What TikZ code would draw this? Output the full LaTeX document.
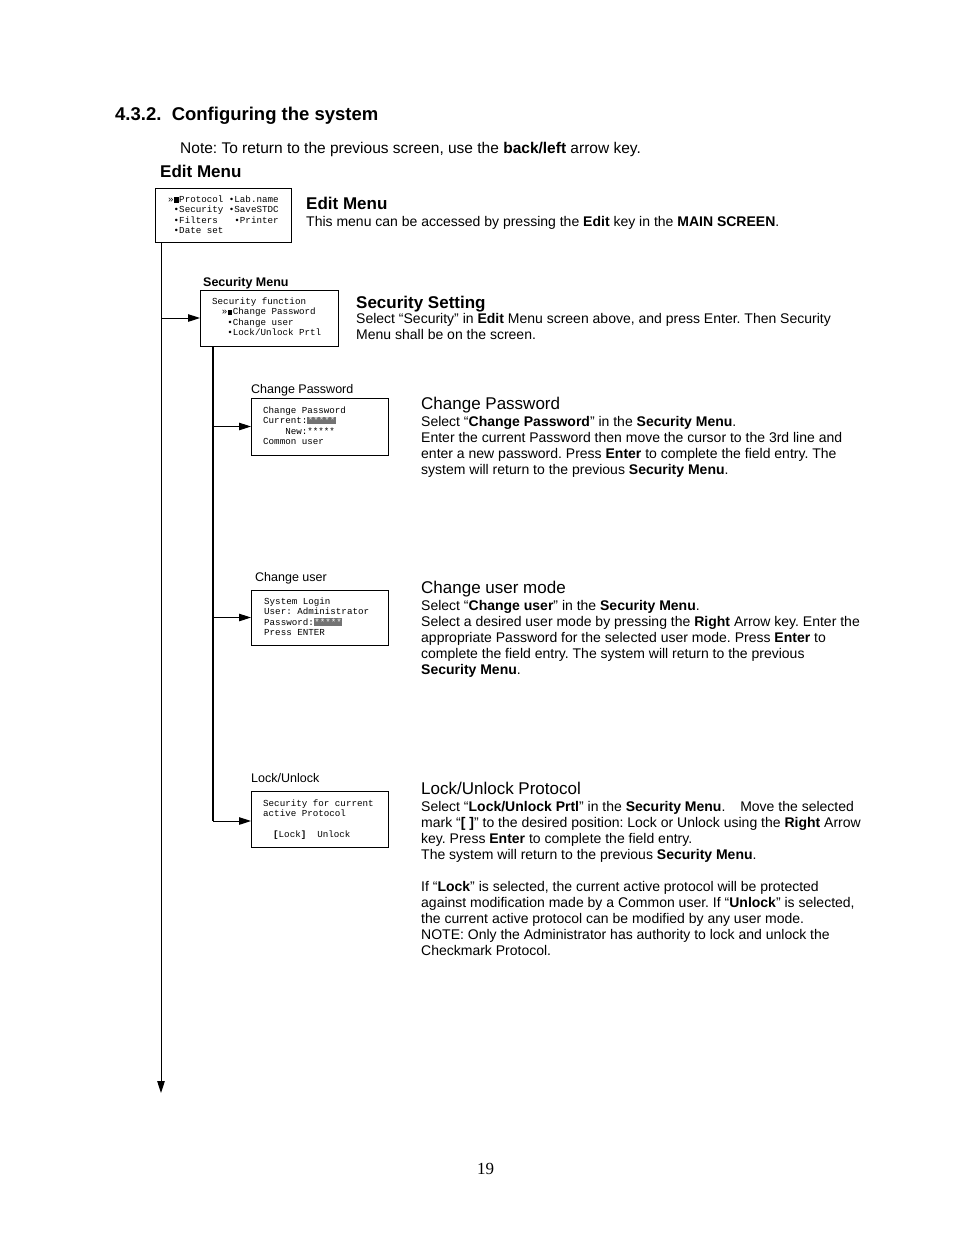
\documentclass[tikz,border=0pt]{standalone}
\usepackage{fontspec}
\setmainfont{Liberation Sans}
\newfontfamily\monof{Liberation Mono}
\newfontfamily\seriff{Liberation Serif}
\usetikzlibrary{arrows.meta}
\newlength\cw
\setlength\cw{5.52pt}
\newcommand\sk[1]{\hspace*{#1\cw}}
\newcommand\blk{\makebox[\cw]{\rule[-0.3pt]{4.6pt}{5.4pt}}}
\newcommand\hlt[1]{{\setlength\fboxsep{0.5pt}\colorbox{black!55}{\textcolor{white}{#1}}}}
\frenchspacing
\tikzset{
  screen/.style={draw, line width=1pt, inner sep=0, outer sep=0},
  monotext/.style={anchor=north west, inner sep=0, align=left, font=\frenchspacing\monof\fontsize{9.2}{10.5}\selectfont},
  para/.style={anchor=north west, inner sep=0, align=left, font=\frenchspacing\fontsize{14}{16}\selectfont},
  ttl/.style={anchor=base west, inner sep=0, font=\fontsize{17}{20}\selectfont},
  small/.style={anchor=base west, inner sep=0, font=\fontsize{12.5}{14}\selectfont},
  arr/.style={line width=1pt, -{Triangle[length=12pt,width=7.5pt]}},
}
\begin{document}
\begin{tikzpicture}[x=1pt,y=-1pt]
\fill[white] (0,0) rectangle (954,1235);
\useasboundingbox (0,0) rectangle (954,1235);

% headings
\node[anchor=base west, inner sep=0, font=\bfseries\fontsize{18.5}{22}\selectfont] (head) at (115,120) {4.3.2.\ \ Configuring the system};
\node[anchor=base west, inner sep=0, font=\frenchspacing\fontsize{15.5}{18}\selectfont] (note) at (180,153) {Note: To return to the previous screen, use the \textbf{back/left} arrow key.};
\node[ttl, font=\bfseries\fontsize{17}{20}\selectfont] (editlbl) at (160,177) {Edit Menu};

% screens
\node[screen, minimum width=136, minimum height=54] (editbox) at (223,215) {};
\node[screen, minimum width=138, minimum height=56] (secbox) at (269,318) {};
\node[screen, minimum width=137, minimum height=57] (cpbox) at (319.5,426.5) {};
\node[screen, minimum width=137, minimum height=55] (cubox) at (319.5,617.5) {};
\node[screen, minimum width=137, minimum height=56] (lockbox) at (319.5,819) {};

% screen contents
\node[monotext] (edittxt) at (168,194.65) {\strut »\blk Protocol •Lab.name\\
\sk1•Security •SaveSTDC\\
\sk1•Filters\sk3•Printer\\
\sk1•Date set};
\node[monotext] (sectxt) at (212,296.65) {\strut Security function\\
\hspace*{9.7pt}»\blk Change Password\\
\hspace*{15.2pt}•Change user\\
\hspace*{15.2pt}•Lock/Unlock Prtl};
\node[monotext] (cptxt) at (263,405.65) {\strut Change Password\\
Current:\hlt{*****}\\
\sk4New:*****\\
Common user};
\node[monotext] (cutxt) at (264,596.65) {\strut System Login\\
User: Administrator\\
Password:\hlt{*****}\\
Press ENTER};
\node[monotext] (locktxt) at (263,798.65) {\strut Security for current\\
active Protocol\\[10.5pt]
\hspace*{10pt}\textbf{[}Lock\textbf{]}\sk2Unlock};

% small labels above screens
\node[small, font=\bfseries\fontsize{12.5}{14}\selectfont] (seclbl) at (203,286.5) {Security Menu};
\node[small] (cplbl) at (251,393.5) {Change Password};
\node[small] (culbl) at (255,581.5) {Change user};
\node[small] (locklbl) at (251,782.5) {Lock/Unlock};

% connectors
\coordinate (mainend) at (161,1093);
\coordinate (subend) at (213,821);
\draw[arr] ([xshift=6pt]editbox.south west) -- (mainend);
\draw[arr] (secbox.west -| mainend) -- (secbox.west);
\draw[line width=2pt] (secbox.south -| subend) -- (subend);
\draw[arr] (cpbox.west -| subend) -- (cpbox.west);
\draw[arr] (cubox.west -| subend) -- (cubox.west);
\draw[arr] (subend) -- (subend -| lockbox.west);

% descriptions
\node[ttl, font=\bfseries\fontsize{17}{20}\selectfont] (emt) at (306,209) {Edit Menu};
\node[para] (emp) at (306,214.8) {\strut This menu can be accessed by pressing the \textbf{Edit} key in the \textbf{MAIN SCREEN}.};

\node[ttl, font=\bfseries\fontsize{17}{20}\selectfont] (sst) at (356,308) {Security Setting};
\node[para] (ssp) at (356,311.8) {\strut Select “Security” in \textbf{Edit} Menu screen above, and press Enter. Then Security\\
Menu shall be on the screen.};

\node[ttl] (cpt) at (421,409) {Change Password};
\node[para] (cpp) at (421,414.8) {\strut Select “\textbf{Change Password}” in the \textbf{Security Menu}.\\
Enter the current Password then move the cursor to the 3rd line and\\
enter a new password. Press \textbf{Enter} to complete the field entry. The\\
system will return to the previous \textbf{Security Menu}.};

\node[ttl] (cut) at (421,593) {Change user mode};
\node[para] (cup) at (421,598.8) {\strut Select “\textbf{Change user}” in the \textbf{Security Menu}.\\
Select a desired user mode by pressing the \textbf{Right} Arrow key. Enter the\\
appropriate Password for the selected user mode. Press \textbf{Enter} to\\
complete the field entry. The system will return to the previous\\
\textbf{Security Menu}.};

\node[ttl] (lkt) at (421,794) {Lock/Unlock Protocol};
\node[para] (lkp) at (421,799.8) {\strut Select “\textbf{Lock/Unlock Prtl}” in the \textbf{Security Menu}.\hspace{11pt} Move the selected\\
mark “\textbf{[ ]}” to the desired position: Lock or Unlock using the \textbf{Right} Arrow\\
key. Press \textbf{Enter} to complete the field entry.\\
The system will return to the previous \textbf{Security Menu}.\\[16pt]
If “\textbf{Lock}” is selected, the current active protocol will be protected\\
against modification made by a Common user. If “\textbf{Unlock}” is selected,\\
the current active protocol can be modified by any user mode.\\
NOTE: Only the Administrator has authority to lock and unlock the\\
Checkmark Protocol.};

\node[anchor=base west, inner sep=0, font=\seriff\fontsize{17}{20}\selectfont] (pageno) at (477,1174) {19};
\end{tikzpicture}
\end{document}
